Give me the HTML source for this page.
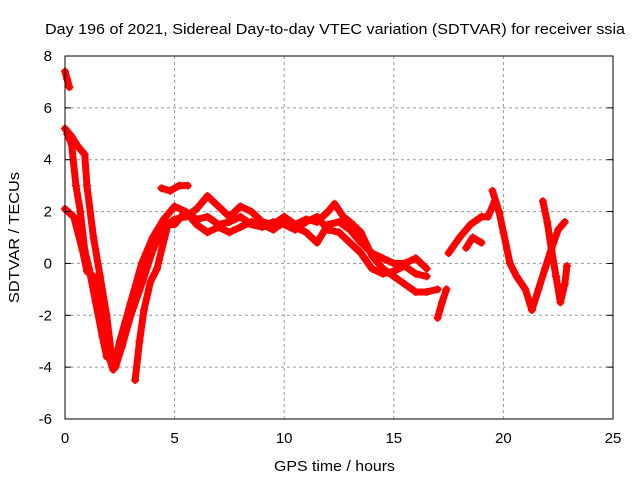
<!DOCTYPE html>
<html><head><meta charset="utf-8"><style>
body{margin:0;background:#fff}
svg{display:block;font-family:"Liberation Sans",sans-serif}
</style></head><body>
<svg id="chart" width="640" height="480" viewBox="0 0 640 480" xmlns="http://www.w3.org/2000/svg">
<rect width="640" height="480" fill="#fff"/>
<text x="45" y="34" font-size="15" textLength="580" lengthAdjust="spacingAndGlyphs" fill="#000">Day 196 of 2021, Sidereal Day-to-day VTEC variation (SDTVAR) for receiver ssia</text>
<g id="grid"></g>
<g id="series"></g>
<rect x="65" y="56" width="548" height="363" fill="none" stroke="#000" stroke-width="1"/>
<g id="ticks"></g>
<text x="274" y="471" font-size="15" textLength="121" lengthAdjust="spacingAndGlyphs">GPS time / hours</text>
<text transform="translate(19,303) rotate(-90)" font-size="15" textLength="131" lengthAdjust="spacingAndGlyphs">SDTVAR / TECUs</text>
</svg>
<script>
const xTicks=[0,5,10,15,20,25];
const yTicks=[-6,-4,-2,0,2,4,6,8];
const trackA=[[0,7.4],[0.1,7.1],[0.2,6.8]];
const trackB=[[0,5.2],[0.3,4.9],[0.6,4.5],[0.9,4.2],[1.0,3.0],[1.3,1.0],[1.6,-0.5],[1.9,-2.0],[2.1,-3.4],[2.3,-4.0],[2.6,-3.2],[3.0,-2.0],[3.5,-0.8],[4.0,0.5],[4.5,1.4],[5.0,1.7],[5.5,1.8],[6.0,2.1],[6.5,2.6],[7.0,2.2],[7.5,1.8],[8.0,2.2],[8.5,2.0],[9.0,1.6],[9.5,1.5],[10.0,1.8],[10.5,1.5],[11.0,1.7],[11.5,1.6],[12.0,2.0],[12.3,2.3],[12.7,1.8],[13.0,1.6],[13.5,1.2],[14.0,0.3],[14.5,-0.2],[15.0,-0.5],[15.5,-0.8],[16.0,-1.1],[16.5,-1.1],[17.0,-1.0]];
const trackC=[[0,2.1],[0.4,1.8],[0.8,0.5],[1.0,-0.3],[1.3,-0.5],[1.5,-1.0],[1.8,-2.5],[2.0,-3.6],[2.2,-4.1],[2.5,-3.0],[3.0,-1.5],[3.5,0.0],[4.0,1.0],[4.5,1.7],[5.0,2.2],[5.5,2.0],[6.0,1.5],[6.5,1.2],[7.0,1.4],[7.5,1.2],[8.0,1.4],[8.5,1.6],[9.0,1.5],[9.5,1.3],[10.0,1.6],[10.5,1.4],[11.0,1.2],[11.5,0.8],[12.0,1.5],[12.5,1.6],[13.0,1.3],[13.5,0.8],[14.0,0.4],[14.5,0.2],[15.0,0.0],[15.5,0.0],[16.0,0.2],[16.5,-0.2]];
const trackD=[[0.1,5.0],[0.3,4.6],[0.5,3.0],[0.7,2.0],[0.9,0.5],[1.1,-0.2],[1.4,-1.5],[1.7,-2.8],[1.9,-3.6]];
const trackE=[[3.2,-4.5],[3.4,-3.0],[3.6,-1.8],[3.9,-0.7],[4.2,-0.2],[4.4,0.5],[4.7,1.5],[5.0,1.5],[5.5,2.0],[6.0,1.7],[6.5,1.8],[7.0,1.5],[7.5,1.6],[8.0,1.8],[8.5,1.5],[9.0,1.4],[9.5,1.6],[10.0,1.5],[10.5,1.3],[11.0,1.6],[11.5,1.8],[12.0,1.3],[12.5,1.2],[13.0,0.8],[13.5,0.4],[14.0,-0.2],[14.5,-0.4],[15.0,-0.3],[15.5,-0.1],[16.0,-0.4],[16.5,-0.5]];
const trackF=[[4.4,2.9],[4.8,2.8],[5.2,3.0],[5.6,3.0]];
const trackG=[[17.0,-2.1],[17.2,-1.5],[17.4,-1.0]];
const trackH=[[17.5,0.4],[18.0,1.0],[18.5,1.5],[19.0,1.8],[19.3,1.8],[19.6,2.4]];
const trackI=[[19.5,2.8],[19.8,2.0],[20.0,1.2],[20.3,0.0],[20.6,-0.5],[21.0,-1.0],[21.3,-1.8],[21.6,-1.0],[21.9,-0.2],[22.2,0.6],[22.5,1.3],[22.8,1.6]];
const trackJ=[[21.8,2.4],[22.0,1.6],[22.2,0.5],[22.4,-0.5],[22.6,-1.5],[22.8,-0.8],[22.9,-0.1]];
const trackK=[[18.3,0.6],[18.6,1.0],[19.0,0.8]];
const tracks=[trackA,trackB,trackC,trackD,trackE,trackF,trackG,trackH,trackI,trackJ,trackK];
const X=h=>65+h*548/25;
const Y=v=>419-(v+6)*363/14;
const NS="http://www.w3.org/2000/svg";
const grid=document.getElementById('grid'),tk=document.getElementById('ticks'),ser=document.getElementById('series');
function mk(tag,attrs,parent){const e=document.createElementNS(NS,tag);for(const k in attrs)e.setAttribute(k,attrs[k]);parent.appendChild(e);return e;}
xTicks.forEach(t=>{
  if(t>0&&t<25){const g=mk('line',{x1:X(t),x2:X(t),y1:56,y2:419,stroke:'#999','stroke-dasharray':'3,3'},grid);
  
  }
  const l=mk('text',{x:X(t),y:443,'font-size':15,'text-anchor':'middle'},tk);l.textContent=t;
  
  
});
yTicks.forEach(t=>{
  if(t>-6&&t<8){const g=mk('line',{x1:65,x2:613,y1:Y(t),y2:Y(t),stroke:'#999','stroke-dasharray':'3,3'},grid);
  
  }
  mk('line',{x1:65,x2:71,y1:Y(t),y2:Y(t),stroke:'#000'},tk);
  mk('line',{x1:607,x2:613,y1:Y(t),y2:Y(t),stroke:'#000'},tk);
  const l=mk('text',{x:52,y:Y(t)+5,'font-size':15,'text-anchor':'end'},tk);l.textContent=t;
  
  
});
tracks.forEach((tr,i)=>{
  const p=mk('polyline',{points:tr.map(d=>X(d[0])+','+Y(d[1])).join(' '),fill:'none',stroke:'#f00','stroke-width':7,'stroke-linejoin':'round','stroke-linecap':'round'},ser);
  
  
  tr.forEach(d=>{
    const x=X(d[0]),y=Y(d[1]);
    const m=mk('path',{d:`M${x-4},${y}H${x+4}M${x},${y-4}V${y+4}`,stroke:'#f00','stroke-width':1.5},ser);
    
    
  });
});
</script>
</body></html>
